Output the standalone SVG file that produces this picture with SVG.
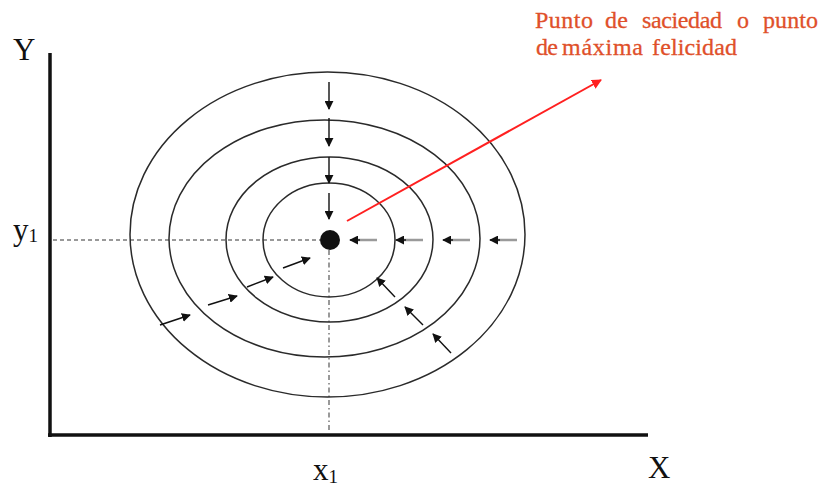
<svg xmlns="http://www.w3.org/2000/svg" width="825" height="489" viewBox="0 0 825 489">
<style>
.curve{fill:none;stroke:#2a2a2a;stroke-width:1.5}
.arr{stroke:#111;stroke-width:1.4;fill:none}
.harr{stroke:#9a9a9a;stroke-width:2.5;fill:none}
.lbl{font-family:"Liberation Serif","Times New Roman",serif;fill:#111}
.red{font-family:"Liberation Serif","Times New Roman",serif;fill:#e0502a;stroke:#e0502a;stroke-width:0.3;font-size:24px}
</style>
<defs>
<marker id="ah" viewBox="0 0 10 10" refX="9" refY="5" markerWidth="9" markerHeight="9" markerUnits="userSpaceOnUse" orient="auto">
<path d="M0,0 L10,5 L0,10 Z" fill="#111"/>
</marker>
<marker id="ahr" viewBox="0 0 10 10" refX="9" refY="5" markerWidth="10" markerHeight="10" markerUnits="userSpaceOnUse" orient="auto">
<path d="M0,0 L10,5 L0,10 Z" fill="#ff2020"/>
</marker>
</defs>
<g id="axes">
<line x1="50" y1="53" x2="50" y2="437" stroke="#111" stroke-width="3.5"/>
<line x1="48" y1="435" x2="648" y2="435" stroke="#111" stroke-width="3.5"/>
</g>
<g id="guides">
<line x1="53" y1="240" x2="320" y2="240" stroke="#999" stroke-width="2" stroke-dasharray="4 3"/>
<line x1="329" y1="250" x2="329" y2="433" stroke="#999" stroke-width="2" stroke-dasharray="5 3 1.5 3"/>
</g>
<g id="curves">
<ellipse class="curve" cx="329" cy="240" rx="66" ry="57"/>
<ellipse class="curve" cx="329.5" cy="239.5" rx="103.5" ry="82.5"/>
<ellipse class="curve" cx="324.5" cy="238.5" rx="155.5" ry="118.5"/>
<ellipse class="curve" cx="327.5" cy="234.5" rx="197.5" ry="162.5"/>
</g>
<g id="point">
<circle cx="330" cy="240" r="10" fill="#111"/>
</g>
<g id="connectors">
<line class="arr" x1="329" y1="82" x2="329" y2="109" marker-end="url(#ah)"/>
<line class="arr" x1="329" y1="118" x2="329" y2="146" marker-end="url(#ah)"/>
<line class="arr" x1="329" y1="157" x2="329" y2="183" marker-end="url(#ah)"/>
<line class="arr" x1="329" y1="193" x2="329" y2="219" marker-end="url(#ah)"/>
<line class="harr" x1="377" y1="240" x2="356" y2="240"/>
<line class="arr" x1="360" y1="240" x2="350" y2="240" marker-end="url(#ah)"/>
<line class="harr" x1="423" y1="240" x2="402" y2="240"/>
<line class="arr" x1="406" y1="240" x2="396" y2="240" marker-end="url(#ah)"/>
<line class="harr" x1="470" y1="240" x2="449" y2="240"/>
<line class="arr" x1="453" y1="240" x2="443" y2="240" marker-end="url(#ah)"/>
<line class="harr" x1="517" y1="240" x2="496" y2="240"/>
<line class="arr" x1="500" y1="240" x2="490" y2="240" marker-end="url(#ah)"/>
<line class="arr" x1="160" y1="325" x2="190" y2="315" marker-end="url(#ah)"/>
<line class="arr" x1="208" y1="305" x2="237" y2="296" marker-end="url(#ah)"/>
<line class="arr" x1="247" y1="287" x2="273" y2="277" marker-end="url(#ah)"/>
<line class="arr" x1="283" y1="268" x2="310" y2="258" marker-end="url(#ah)"/>
<line class="arr" x1="395" y1="297" x2="377" y2="278" marker-end="url(#ah)"/>
<line class="arr" x1="423" y1="325" x2="405" y2="307" marker-end="url(#ah)"/>
<line class="arr" x1="451" y1="353" x2="433" y2="334" marker-end="url(#ah)"/>
<line x1="347" y1="221" x2="601" y2="80" stroke="#ff2020" stroke-width="2" marker-end="url(#ahr)"/>
</g>
<g id="labels">
<text class="lbl" x="13" y="60" font-size="31">Y</text>
<text class="lbl" x="13" y="240" font-size="31">y<tspan font-size="19" dy="2">1</tspan></text>
<text class="lbl" x="313" y="480" font-size="31">x<tspan font-size="19" dy="3">1</tspan></text>
<text class="lbl" x="648" y="478" font-size="31">X</text>
</g>
<g id="note">
<text class="red" y="28"><tspan x="535" textLength="58">Punto</tspan><tspan x="605" textLength="23">de</tspan><tspan x="642" textLength="80">saciedad</tspan><tspan x="737" textLength="10">o</tspan><tspan x="763" textLength="55">punto</tspan></text>
<text class="red" y="55"><tspan x="536" textLength="22">de</tspan><tspan x="562" textLength="81">máxima</tspan><tspan x="652" textLength="85">felicidad</tspan></text>
</g>
</svg>
